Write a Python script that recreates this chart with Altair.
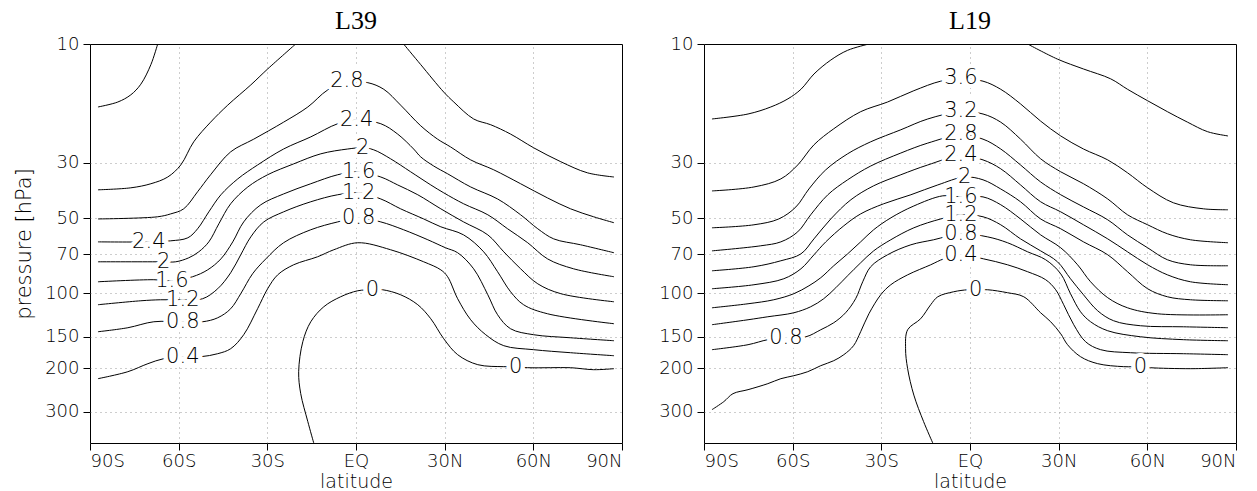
import altair as alt
import pandas as pd

# ---------------- axis ticks ----------------
LAT_TICKS = [-90, -60, -30, 0, 30, 60, 90]
P_TICKS = [10, 30, 50, 70, 100, 150, 200, 300]

# ---------------- L39 contours: (latitude, pressure hPa) ----------------
L39_C3_6 = [(-87.3, 17.9), (-80.6, 17.1), (-76.2, 16.0), (-72.8, 14.5), (-69.4, 12.1), (-67.1, 10.0)]
L39_C3_2_S = [(-87.3, 38.5), (-76.2, 37.8), (-69.4, 36.4), (-63.7, 34.2), (-59.3, 30.6), (-54.9, 24.7),
              (-49.2, 20.6), (-43.4, 17.6), (-35.6, 14.6), (-29.9, 12.6), (-20.4, 10.0)]
L39_C3_2_N = [(16.1, 10.0), (21.9, 12.1), (29.7, 15.6), (33.1, 17.1), (39.8, 20.0), (45.6, 21.1),
              (52.3, 23.0), (60.1, 26.1), (69.3, 29.7), (78.3, 32.9), (87.3, 34.2)]
L39_C2_8 = [(-87.3, 50.4), (-67.1, 49.4), (-62.7, 48.1), (-58.3, 45.9), (-53.6, 39.2), (-49.2, 33.5),
            (-42.4, 27.1), (-34.6, 24.1), (-24.5, 20.6), (-16.3, 17.9), (-9.6, 15.3), (-3.1, 14.2),
            (4.0, 14.3), (9.4, 15.2), (15.1, 17.6), (21.9, 21.3), (27.6, 24.1), (32.0, 25.9),
            (38.8, 29.2), (46.6, 32.0), (55.7, 36.4), (64.8, 41.5), (72.6, 45.9), (80.4, 49.4), (87.3, 52.2)]
L39_C2_4 = [(-87.3, 62.3), (-70.1, 62.3), (-62.7, 61.7), (-56.9, 60.0), (-53.6, 55.2), (-49.8, 47.2),
            (-45.7, 40.3), (-40.0, 34.8), (-33.3, 30.6), (-24.5, 26.4), (-15.3, 23.6), (-6.2, 20.9),
            (0.2, 20.2), (8.4, 20.9), (14.1, 23.0), (19.5, 26.4), (21.9, 28.4), (26.3, 30.9),
            (31.0, 33.2), (38.8, 37.5), (47.9, 41.9), (55.7, 48.5), (61.5, 55.2), (66.9, 60.6),
            (76.0, 64.0), (87.3, 68.9)]
L39_C2_0 = [(-87.3, 74.9), (-65.1, 74.9), (-61.0, 74.9), (-56.6, 72.2), (-53.2, 68.3), (-49.8, 62.3),
            (-46.4, 52.7), (-42.4, 43.8), (-36.6, 37.5), (-29.9, 33.5), (-21.1, 30.3), (-11.9, 27.6),
            (-2.8, 26.4), (2.3, 26.1), (6.0, 26.6), (11.7, 28.9), (18.5, 32.6), (25.3, 36.8),
            (29.7, 39.6), (36.4, 43.8), (44.6, 48.5), (51.3, 55.2), (58.1, 62.8), (64.8, 72.9),
            (73.6, 79.9), (87.3, 86.0)]
L39_C1_6 = [(-87.3, 90.1), (-68.4, 88.4), (-62.3, 89.3), (-55.3, 86.0), (-50.2, 80.7), (-45.7, 72.9),
            (-41.7, 62.3), (-38.0, 51.8), (-32.2, 44.2), (-24.5, 40.0), (-15.3, 36.4), (-6.2, 33.5),
            (0.9, 32.6), (8.4, 34.2), (14.1, 36.8), (20.9, 40.3), (28.7, 45.9), (36.4, 51.8),
            (44.6, 58.4), (50.0, 68.3), (55.7, 79.9), (61.5, 91.8), (69.3, 100.6), (87.3, 108.4)]
L39_C1_2 = [(-87.3, 111.4), (-72.8, 107.4), (-66.1, 106.4), (-58.6, 106.4), (-51.9, 105.4), (-46.8, 96.1),
            (-42.4, 82.9), (-39.0, 70.2), (-35.6, 59.5), (-31.2, 51.8), (-24.5, 47.2), (-15.3, 43.0),
            (-6.2, 40.3), (0.9, 39.6), (8.4, 41.9), (15.1, 45.9), (22.9, 50.4), (28.7, 54.2),
            (36.4, 58.4), (43.2, 68.3), (47.9, 82.1), (52.3, 98.8), (56.7, 111.4), (64.8, 121.1), (87.3, 132.8)]
L39_C0_8 = [(-87.3, 143.0), (-77.2, 137.8), (-68.4, 130.4), (-58.6, 130.4), (-51.9, 130.4), (-46.8, 125.7),
            (-42.4, 115.6), (-39.0, 100.6), (-35.0, 83.7), (-30.5, 72.9), (-24.5, 62.8), (-15.3, 55.7),
            (-6.2, 51.8), (0.9, 49.9), (8.4, 51.8), (16.1, 55.7), (24.3, 61.1), (30.3, 65.8),
            (34.4, 68.9), (39.8, 79.9), (44.6, 101.6), (47.9, 122.2), (52.3, 139.1), (60.1, 147.0),
            (72.6, 151.2), (87.3, 155.4)]
L39_C0_4 = [(-87.3, 220.7), (-77.2, 206.9), (-70.4, 192.1), (-65.1, 183.5), (-58.6, 180.1), (-52.5, 180.1),
            (-46.8, 175.2), (-42.4, 167.3), (-38.0, 147.0), (-33.3, 115.6), (-29.9, 96.1), (-26.5, 84.5),
            (-21.1, 77.0), (-13.0, 71.5), (-7.5, 67.0), (0.6, 62.8), (11.7, 67.0), (22.9, 74.9),
            (28.7, 80.7), (31.0, 86.0), (34.4, 105.4), (38.8, 128.0), (43.9, 147.0), (50.0, 162.7),
            (60.1, 168.8), (72.6, 173.6), (87.3, 178.5)]
L39_C0_0 = [(-14.3, 400.0), (-16.3, 328.3), (-18.7, 253.5), (-19.4, 206.9), (-18.0, 156.8), (-15.3, 130.4),
            (-10.9, 113.5), (-5.2, 103.5), (0.6, 97.9), (5.6, 97.0), (9.0, 97.0), (15.1, 101.6),
            (20.9, 111.4), (25.3, 126.8), (29.7, 152.6), (34.4, 176.8), (41.2, 193.9), (50.0, 197.5),
            (54.0, 197.5), (58.1, 199.4), (65.9, 199.4), (72.6, 199.4), (80.4, 203.1), (87.3, 201.2)]

L39_LABELS = [("2.8", -3.1, 14.1), ("2.4", 0.2, 20.2), ("2", 2.3, 26.1), ("1.6", 0.9, 32.6),
              ("1.2", 0.9, 39.6), ("0.8", 0.9, 49.9), ("0", 5.6, 97.0), ("0", 54.0, 197.5),
              ("2.4", -70.1, 62.3), ("2", -65.1, 74.9), ("1.6", -62.3, 89.3), ("1.2", -58.6, 106.4),
              ("0.8", -58.6, 130.4), ("0.4", -58.6, 180.1)]

# ---------------- L19 contours ----------------
L19_C4_0_S = [(-87.3, 20.0), (-75.1, 19.1), (-67.4, 17.9), (-61.6, 16.6), (-57.2, 15.2), (-52.8, 13.2),
              (-47.1, 11.6), (-41.4, 10.6), (-34.2, 10.0)]
L19_C4_0_N = [(19.5, 10.0), (29.6, 11.5), (38.4, 12.6), (47.6, 13.8), (53.3, 15.2), (60.1, 16.9),
              (66.8, 18.7), (73.6, 20.6), (80.4, 22.5), (87.3, 23.4)]
L19_C3_6 = [(-87.3, 38.9), (-73.1, 37.5), (-64.0, 34.8), (-58.3, 30.6), (-52.8, 25.4), (-46.1, 21.9),
            (-37.0, 18.7), (-27.9, 17.1), (-19.0, 15.4), (-9.9, 14.1), (-3.1, 13.8), (4.4, 14.1),
            (10.4, 15.2), (17.1, 17.4), (23.9, 20.4), (30.7, 23.4), (38.4, 26.4), (46.6, 29.2),
            (53.3, 32.9), (60.1, 37.8), (68.8, 43.4), (79.0, 45.9), (87.3, 46.3)]
L19_C3_2 = [(-87.3, 54.7), (-73.1, 53.2), (-64.7, 50.4), (-58.9, 45.1), (-54.5, 38.2), (-48.8, 32.0),
            (-41.4, 27.6), (-33.6, 24.7), (-23.4, 22.1), (-14.3, 20.0), (-3.1, 18.7), (4.4, 19.1),
            (10.4, 20.6), (17.1, 24.1), (23.9, 28.9), (30.7, 32.6), (38.4, 36.4), (46.6, 41.9),
            (53.3, 48.5), (60.1, 53.2), (66.8, 57.8), (74.6, 61.1), (87.3, 62.8)]
L19_C2_8 = [(-87.3, 67.7), (-70.8, 64.6), (-64.0, 62.3), (-58.3, 56.8), (-53.9, 48.5), (-48.1, 40.3),
            (-41.4, 35.1), (-33.6, 30.9), (-23.4, 27.4), (-14.3, 25.0), (-3.1, 23.2), (4.4, 24.1),
            (10.4, 26.4), (17.1, 30.6), (23.9, 35.8), (30.7, 40.3), (38.4, 45.1), (46.6, 50.8),
            (53.3, 58.4), (60.1, 65.8), (66.8, 73.5), (74.6, 77.0), (87.3, 77.7)]
L19_C2_4 = [(-87.3, 81.4), (-73.1, 78.4), (-64.0, 74.2), (-57.2, 69.6), (-52.8, 60.6), (-47.1, 50.4),
            (-40.3, 42.2), (-32.6, 37.1), (-23.4, 33.5), (-14.3, 30.6), (-3.1, 28.1), (4.4, 29.2),
            (10.4, 31.7), (17.1, 36.8), (23.9, 43.0), (30.7, 47.2), (38.4, 53.2), (46.6, 60.6),
            (53.3, 68.3), (60.1, 77.0), (66.8, 84.5), (74.6, 90.1), (87.3, 92.6)]
L19_C2_0 = [(-87.3, 96.1), (-73.1, 92.6), (-63.0, 87.6), (-57.2, 79.9), (-52.8, 70.2), (-48.8, 62.3),
            (-42.7, 53.7), (-37.0, 48.1), (-29.2, 43.8), (-20.0, 40.3), (-10.9, 36.8), (-1.8, 34.2),
            (4.4, 35.1), (10.4, 38.2), (17.1, 43.0), (23.9, 50.4), (30.7, 55.2), (38.4, 62.3),
            (46.6, 70.2), (53.3, 82.1), (60.1, 96.1), (66.8, 103.5), (74.6, 106.4), (87.3, 107.4)]
L19_C1_6 = [(-87.3, 114.6), (-75.1, 110.4), (-66.4, 106.4), (-59.6, 100.6), (-54.5, 93.5), (-50.5, 86.8),
            (-46.1, 77.7), (-41.4, 69.6), (-37.0, 62.3), (-32.6, 55.7), (-26.8, 49.9), (-19.0, 44.7),
            (-9.2, 40.7), (-3.1, 41.1), (4.4, 41.1), (10.4, 44.2), (17.1, 50.4), (23.9, 58.4),
            (30.7, 65.8), (36.4, 77.0), (40.8, 90.1), (46.6, 104.4), (53.3, 114.6), (63.4, 121.1), (87.3, 122.2)]
L19_C1_2 = [(-87.3, 134.0), (-75.1, 128.0), (-68.4, 124.5), (-59.6, 120.0), (-53.9, 113.5), (-49.5, 105.4),
            (-45.4, 95.2), (-41.4, 85.2), (-37.0, 75.6), (-32.6, 67.7), (-26.8, 61.1), (-19.0, 54.7),
            (-9.9, 50.4), (-3.1, 48.5), (4.4, 49.4), (10.4, 53.2), (17.1, 60.6), (23.9, 67.7),
            (29.6, 74.9), (34.0, 87.6), (38.4, 101.6), (43.2, 117.8), (48.6, 129.2), (57.7, 135.3),
            (72.2, 136.6), (87.3, 137.8)]
L19_C0_8 = [(-87.3, 168.8), (-75.1, 161.2), (-68.4, 153.9), (-62.3, 151.2), (-55.5, 149.8), (-50.5, 140.4),
            (-46.1, 131.6), (-42.1, 120.0), (-38.7, 105.4), (-36.3, 90.1), (-33.6, 78.4), (-27.9, 70.2),
            (-20.0, 64.0), (-12.3, 61.1), (-3.1, 57.8), (6.0, 59.5), (12.7, 62.8), (19.5, 68.3),
            (25.6, 73.5), (30.7, 83.7), (34.0, 100.6), (37.4, 118.9), (40.8, 130.4), (46.6, 141.7),
            (57.7, 149.8), (72.2, 153.9), (87.3, 155.4)]
L19_C0_4 = [(-87.3, 293.9), (-83.3, 272.9), (-80.2, 253.5), (-75.1, 244.3), (-68.4, 231.1), (-64.0, 220.7),
            (-59.6, 214.7), (-54.9, 206.9), (-50.5, 195.7), (-46.1, 186.9), (-42.7, 176.8), (-39.4, 162.7),
            (-37.0, 143.0), (-34.2, 121.1), (-30.2, 101.6), (-26.8, 92.6), (-21.1, 84.5), (-13.3, 77.0),
            (-8.9, 72.9), (-3.1, 70.2), (4.6, 72.9), (12.7, 77.0), (19.5, 82.1), (25.6, 88.4),
            (29.0, 97.0), (31.7, 111.4), (35.1, 134.0), (39.1, 156.8), (44.2, 168.8), (54.3, 173.6),
            (72.2, 175.2), (87.3, 176.8)]
L19_C0_0 = [(-12.6, 400.0), (-15.7, 328.3), (-19.0, 256.9), (-21.1, 201.2), (-21.8, 167.3), (-21.1, 140.4),
            (-16.7, 126.8), (-13.3, 111.4), (-10.9, 103.5), (-5.5, 98.8), (-0.8, 97.0), (1.9, 97.0),
            (6.0, 97.0), (12.7, 99.7), (18.2, 103.5), (23.9, 120.0), (27.3, 130.4), (30.7, 145.7),
            (33.0, 161.2), (37.4, 180.1), (43.2, 192.1), (52.0, 197.5), (57.7, 197.5), (61.0, 199.4),
            (74.6, 201.2), (87.3, 199.4)]

L19_LABELS = [("3.6", -3.1, 13.7), ("3.2", -3.1, 18.6), ("2.8", -3.1, 23.0), ("2.4", -3.1, 27.9),
              ("2", -1.8, 34.2), ("1.6", -3.1, 41.1), ("1.2", -3.1, 48.5), ("0.8", -3.1, 57.8),
              ("0.4", -3.1, 70.2), ("0", 1.9, 97.0), ("0.8", -62.3, 151.2), ("0", 57.7, 197.5)]

L39_LINES = {"3.6": L39_C3_6, "3.2s": L39_C3_2_S, "3.2n": L39_C3_2_N, "2.8": L39_C2_8,
             "2.4": L39_C2_4, "2.0": L39_C2_0, "1.6": L39_C1_6, "1.2": L39_C1_2,
             "0.8": L39_C0_8, "0.4": L39_C0_4, "0.0": L39_C0_0}
L19_LINES = {"4.0s": L19_C4_0_S, "4.0n": L19_C4_0_N, "3.6": L19_C3_6, "3.2": L19_C3_2,
             "2.8": L19_C2_8, "2.4": L19_C2_4, "2.0": L19_C2_0, "1.6": L19_C1_6,
             "1.2": L19_C1_2, "0.8": L19_C0_8, "0.4": L19_C0_4, "0.0": L19_C0_0}


def lines_frame(lines):
    rows = []
    for name, pts in lines.items():
        for i, (lat, p) in enumerate(pts):
            rows.append({"line": name, "i": i, "lat": lat, "p": p})
    return pd.DataFrame(rows)


def labels_frame(labels):
    return pd.DataFrame([{"txt": t, "lat": la, "p": p} for t, la, p in labels])


LABEL_EXPR = ("datum.value < 0 ? (-datum.value) + 'S' : "
              "(datum.value > 0 ? datum.value + 'N' : 'EQ')")
EDGE_TEST = "datum.value == -90 || datum.value == 90"


def panel(lines, labels, title, ytitle):
    x = alt.X("lat:Q",
              scale=alt.Scale(domain=[-90, 90], nice=False, zero=False),
              axis=alt.Axis(values=LAT_TICKS, labelExpr=LABEL_EXPR, title="latitude",
                            gridOpacity={"condition": {"test": EDGE_TEST, "value": 0}, "value": 1}))
    yaxis = alt.Axis(values=P_TICKS, format="d",
                     gridOpacity={"condition": {"test": "datum.value == 10", "value": 0}, "value": 1})
    if ytitle:
        y = alt.Y("p:Q", scale=alt.Scale(type="log", domain=[10, 400], reverse=True, nice=False),
                  axis=yaxis, title=ytitle)
    else:
        y = alt.Y("p:Q", scale=alt.Scale(type="log", domain=[10, 400], reverse=True, nice=False),
                  axis=yaxis, title=None)

    ldf = lines_frame(lines)
    tdf = labels_frame(labels)
    base_lines = alt.Chart(ldf).mark_line(color="black", strokeWidth=1, interpolate="catmull-rom",
                                          clip=True).encode(x=x, y=y, detail="line:N", order="i:Q")
    halo = alt.Chart(tdf).mark_text(font="DejaVu Sans", fontSize=21, color="white", stroke="white",
                                    strokeWidth=8, strokeJoin="round", baseline="middle",
                                    align="center").encode(x=x, y=y, text="txt:N")
    txt = alt.Chart(tdf).mark_text(font="DejaVu Sans", fontSize=21, fontWeight=200, color="black",
                                   baseline="middle", align="center").encode(x=x, y=y, text="txt:N")
    return alt.layer(base_lines, halo, txt).properties(
        width=532, height=399,
        title=alt.TitleParams(title, font="Liberation Serif", fontSize=26, fontWeight="normal",
                              color="black", offset=1, anchor="middle"))


left = panel(L39_LINES, L39_LABELS, "L39", "pressure [hPa]")
right = panel(L19_LINES, L19_LABELS, "L19", None)

chart = alt.hconcat(left, right, spacing=82, bounds="flush").properties(
    padding={"left": 13, "top": 7, "right": 5, "bottom": 0},
    background="white",
).configure_view(
    stroke="black", strokeWidth=1
).configure_axis(
    labelFont="DejaVu Sans", labelFontSize=18, labelColor="black", labelFontWeight=200,
    titleFont="DejaVu Sans", titleFontSize=19, titleColor="black", titleFontWeight=200,
    tickColor="black", tickSize=7, tickWidth=1, domain=False,
    gridColor="#9a9a9a", gridDash=[1, 4], gridWidth=1,
).configure_axisX(
    labelPadding=2, titlePadding=2
).configure_axisY(
    labelPadding=4, titlePadding=10, titleFontSize=21
)

chart.save("out.html", embed_options={"renderer": "svg", "actions": False})
